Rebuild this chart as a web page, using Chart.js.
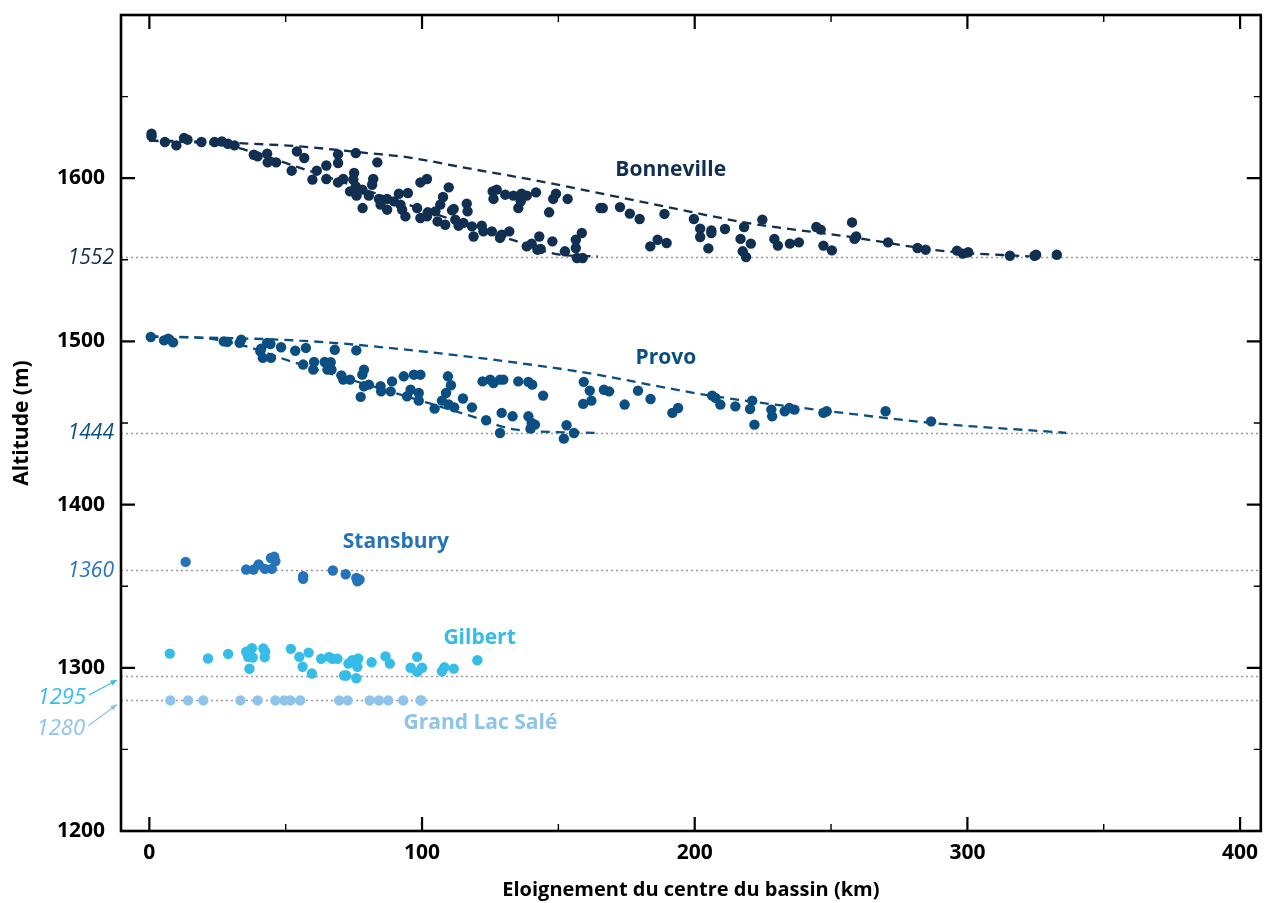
<!DOCTYPE html>
<html>
<head>
<meta charset="utf-8">
<script src="https://cdn.jsdelivr.net/npm/chart.js@4.4.1/dist/chart.umd.min.js"></script>
<style>
  html, body { margin: 0; padding: 0; background: #fff; }
  #wrap { width: 1266px; height: 903px; }
</style>
</head>
<body>
<div id="wrap"><canvas id="chart"></canvas></div>
<script>
// ---- data (km from basin centre, altitude m) ----
const bonneville = [
  [0.8,1627.3],[0.8,1625.6],[5.7,1622.2],[9.9,1620.1],[12.7,1624.6],[14,1623.6],[19.1,1622.2],[23.9,1622.2],
  [26.6,1622.5],[28.8,1621.1],[31.2,1620.1],[38.3,1614.4],[39.7,1613.4],[43.2,1615],[43.4,1609.7],[46.5,1609.7],
  [52.2,1604.6],[54.1,1616.4],[56.8,1612.4],[59.8,1599.1],[61.4,1604.6],[64.9,1607.8],[64.9,1599.5],[69.2,1614.6],
  [69.2,1609.3],[69.2,1597.4],[71.1,1599.5],[75.1,1603.2],[75.7,1615.4],[74.8,1599.1],[73.6,1591.9],[75.7,1595],
  [78.1,1593],[76,1589.3],[78.2,1581.7],[80.5,1589.3],[82.1,1599.5],[81.7,1596],[83.6,1609.7],[84.2,1587.3],
  [84.8,1583.8],[87.2,1587.3],[87.2,1580.7],[89.7,1585.8],[91.5,1590.5],[92.1,1583.8],[92.7,1580.7],[94.8,1590.9],
  [93.9,1576.6],[98.2,1581.7],[99.4,1597.4],[101.8,1599.5],[99.4,1575.6],[101.8,1576.6],[102.1,1579.1],[104.9,1579.7],
  [105.7,1573.5],[106.7,1583.8],[107.7,1588.5],[109.8,1594.4],[111,1580.3],[111.6,1581.1],[108.5,1571.5],[112.2,1574.6],
  [113.4,1570.9],[115.2,1572.6],[116.4,1584.4],[116.7,1579.7],[118.3,1570.5],[118.9,1564.3],[121.9,1570.9],[122.5,1567.4],
  [125.6,1567.4],[125.9,1591.9],[127.4,1593],[126.2,1587.3],[130.5,1589.9],[133.5,1589.3],[136.5,1590.5],[138.4,1589.3],
  [141.8,1591.3],[136.2,1585.8],[135.3,1581.7],[129.2,1565.4],[128.6,1563.4],[132,1567.4],[146.6,1579.1],[148.1,1587.3],
  [149.1,1590.5],[143,1564.3],[147.8,1561.3],[138.4,1558.2],[140.2,1559.9],[143.5,1556.6],[142.3,1556.2],
  [153.4,1587.3],[152.4,1555.2],[156.4,1562.3],[156.4,1557.2],[158.6,1566.4],[156.8,1551.1],[158.9,1551.1],[165.4,1581.7],
  [166.3,1581.7],[172.6,1582.3],[176.2,1578.3],[179.8,1575],[188.9,1578.1],[183.7,1558.2],[186.4,1562.3],[189.7,1560.3],
  [199.7,1575],[202,1569.1],[202,1564],[206.1,1566.4],[206.1,1568],[205,1557],[211.1,1568.9],[216.8,1562.8],
  [218.1,1570.1],[220.6,1559.9],[217.6,1555.2],[218.8,1551.7],[224.8,1574.6],[229.2,1562.8],[230.5,1558.7],[234.9,1559.9],
  [238.2,1560.7],[244.6,1570.1],[246.2,1568.5],[247.2,1558.7],[250.3,1555.8],[257.7,1572.9],[258.6,1562.8],[259.2,1564.3],
  [270.9,1560.7],[281.7,1557.2],[284.7,1556.2],[296.2,1555.6],[298.3,1553.8],[300.3,1554.6],[315.6,1552.5],[324.6,1552.5],
  [325.2,1553.1],[332.8,1553.1]
];
const bonnevilleUpper = [
  [0,1623],[18.4,1622.5],[31.2,1621.6],[55,1619.5],[79.9,1615.4],[93.9,1613],[116.4,1606.2],[140.2,1599.1],
  [188.9,1582.7],[219.3,1572.6],[255.8,1564.3],[292.4,1555.2],[322.7,1552.1]
];
const bonnevilleLower = [
  [0,1623],[20,1621.5],[31.2,1619],[55,1606.5],[79.8,1592.5],[98.1,1582],[116.3,1571.6],[134.6,1561.4],
  [149.2,1553.5],[164.5,1552]
];

const provo = [
  [0.5,1502.7],[5.4,1500.6],[6.9,1501.7],[8.7,1499.4],[27.3,1500],[28.6,1499.7],[33.7,1501.1],[33.1,1499.1],
  [41,1495.6],[43.2,1499.1],[44.4,1498.4],[40.7,1493.9],[41.6,1489.9],[44.6,1489.9],[48.3,1496.4],[53.5,1494.3],
  [57.4,1496],[68,1494.9],[75.9,1494.5],[56.4,1485.8],[60.1,1482.7],[60.4,1487.4],[64.3,1487.4],[66.5,1487.2],
  [65.3,1482.7],[66.8,1482.7],[70.4,1479.2],[71.1,1476.6],[73.6,1476.6],[78.7,1482.7],[78.1,1479.6],[78.7,1472.5],
  [80.5,1473.5],[77.5,1466],[84.8,1472.5],[85,1469.4],[88.5,1469.4],[89,1475.5],[93.3,1478.6],[97,1479.6],
  [99.4,1479.6],[95.8,1470.4],[98.8,1468.4],[98.8,1463.7],[94.5,1466.4],[109.5,1478.6],[110.6,1473.1],[108.8,1468.4],
  [107.3,1463.7],[109.8,1461.3],[111.8,1459.6],[104.6,1458.8],[115,1465],[118.3,1459.6],[122.2,1475.5],[125,1476.6],
  [128.6,1476.6],[126.2,1474.5],[129.8,1476.6],[135.3,1475.5],[139,1475.2],[140.4,1473.5],[144.4,1466.8],[129.2,1456.2],
  [133.2,1454.1],[123.5,1451.7],[128.6,1443.9],[139,1454.1],[140.2,1450],[141.4,1449],[139.8,1446.6],[153,1448.6],
  [155.7,1443.9],[152,1440.4],[159.3,1475.2],[161.5,1469.8],[162.1,1463.7],[159.1,1461.7],[166.7,1470.4],[168.6,1469.4],
  [174.3,1461.3],[179.2,1469.8],[183.8,1464.7],[191.8,1456.2],[193.9,1459.2],[206.4,1466.8],[207.6,1465.4],[209.4,1461.3],
  [214.9,1460.2],[221.1,1463.7],[220.3,1458.6],[221.9,1449],[228.1,1458.2],[228.4,1454.1],[233,1457.2],[234.7,1459.2],
  [236.6,1458.2],[247.2,1456.2],[248.4,1457.2],[270,1457.2],[286.7,1451]
];
const provoUpper = [
  [0,1503],[55,1500.5],[91.5,1495.4],[156.7,1481.7],[205.6,1466.8],[254.5,1456.2],[287.1,1450],[336.2,1444]
];
const provoLower = [
  [0,1503],[20,1502],[35.5,1497],[46.5,1490.8],[55.6,1485.8],[92.1,1467.4],[116.4,1455.1],[134.7,1445.9],[163.3,1444]
];

const stansbury = [
  [13.3,1364.9],[35.5,1360.2],[38.2,1360.2],[40.1,1363.3],[42.4,1360.6],[44.6,1367.3],[45.8,1368],[46.2,1365.3],
  [44.9,1360.6],[56.4,1356.1],[56.4,1354.5],[67.3,1359.6],[72,1357.3],[75.9,1355.1],[77.1,1354.1],[76.3,1353]
];

const gilbert = [
  [7.5,1308.7],[21.5,1305.7],[28.9,1308.5],[35.5,1309.8],[37.6,1312],[36.2,1306.7],[37.9,1306.3],[36.7,1299.4],
  [41.8,1311.8],[42.5,1309.8],[42.3,1306.5],[51.9,1311.6],[55,1306.7],[56.2,1300.6],[58.4,1309.3],[59.6,1296.5],
  [63,1305.5],[65.9,1306.7],[67.1,1305.5],[69,1305.5],[71.4,1295.3],[72.2,1295.3],[73,1302.6],[74.4,1304.6],
  [76.6,1305.7],[76.3,1300.6],[75.9,1293.6],[81.5,1303.4],[86.6,1307],[88.2,1302.6],[95.8,1300],[98.2,1306.7],
  [98.2,1297.5],[100,1300],[107.3,1297.9],[108.2,1300.3],[111.6,1299.5],[120.3,1304.6]
];

const glsX = [7.7,14.2,19.8,33.4,39.7,46.2,49.5,51.7,55.3,69.6,72.7,80.8,84.2,87.6,93.1,99.4,99.8];
const glsLevel = 1280;

// shoreline reference levels (m)
const levels = [1552, 1444, 1360, 1295, 1280];

// axis ticks
const xMajor = [0, 100, 200, 300, 400];
const xMinor = [50, 150, 250, 350];
const yLabelled = [1200, 1300, 1400, 1500, 1600];
const yMajor = [1200, 1300, 1400, 1500, 1600, 1700];
const yMinor = [1250, 1350, 1450, 1550, 1650];

// series names and where their labels sit (data coords)
const seriesNames = ["Bonneville", "Provo", "Stansbury", "Gilbert", "Grand Lac Salé"];
const seriesLabelX = [191.2, 189.4, 90.4, 121.1, 121.4];
const seriesLabelY = [1605.2, 1490, 1377.3, 1318.5, 1265.9];

// ---- style ----
const colors = ["#112f50", "#0b4f82", "#2574ba", "#35bde8", "#8ec4ea"];
const FONT = '"Open Sans", "Noto Sans", sans-serif';
// level label placement: text right edge (px), y offset from the level (px), font size, arrow to axis
const levelLabelStyle = [
  { right: 114, dy: 1, size: 21, arrow: false },
  { right: 114, dy: 0, size: 21, arrow: false },
  { right: 114, dy: 1, size: 21, arrow: false },
  { right: 86, dy: 22, size: 22, arrow: true },
  { right: 85, dy: 28.5, size: 22, arrow: true }
];

const pts = (arr) => arr.map(([x, y]) => ({ x, y }));

function pointSet(data, color) {
  return {
    data: pts(data), backgroundColor: color, borderWidth: 0,
    pointRadius: 5.2, pointHoverRadius: 5.2, showLine: false, order: 0
  };
}
function envelope(data, color) {
  return {
    data: pts(data), borderColor: color, borderWidth: 2.3, borderDash: [9, 6],
    pointRadius: 0, pointHoverRadius: 0, showLine: true, fill: false,
    cubicInterpolationMode: "monotone", order: 1
  };
}

const framePlugin = {
  id: "frame",
  beforeDatasetsDraw(chart) {
    const { ctx, chartArea: a, scales: { y } } = chart;
    ctx.save();
    ctx.strokeStyle = "#9a9a9a";
    ctx.lineWidth = 1.3;
    ctx.setLineDash([2, 3]);
    levels.forEach((lv) => {
      const py = Math.round(y.getPixelForValue(lv)) + 0.5;
      ctx.beginPath();
      ctx.moveTo(a.left, py);
      ctx.lineTo(a.right, py);
      ctx.stroke();
    });
    ctx.restore();
  },
  afterDatasetsDraw(chart) {
    const { ctx, chartArea: a, scales: { x, y } } = chart;
    ctx.save();
    ctx.strokeStyle = "#000";
    ctx.lineCap = "butt";

    // ticks, inward on all four sides
    const xtick = (vals, len, w) => {
      ctx.lineWidth = w;
      vals.forEach((v) => {
        const px = x.getPixelForValue(v);
        ctx.beginPath();
        ctx.moveTo(px, a.bottom); ctx.lineTo(px, a.bottom - len);
        ctx.moveTo(px, a.top); ctx.lineTo(px, a.top + len);
        ctx.stroke();
      });
    };
    const ytick = (vals, len, w) => {
      ctx.lineWidth = w;
      vals.forEach((v) => {
        const py = y.getPixelForValue(v);
        ctx.beginPath();
        ctx.moveTo(a.left, py); ctx.lineTo(a.left + len, py);
        ctx.moveTo(a.right, py); ctx.lineTo(a.right - len, py);
        ctx.stroke();
      });
    };
    xtick(xMajor, 14, 2.2);
    xtick(xMinor, 7, 1.4);
    ytick(yMajor, 14, 2.2);
    ytick(yMinor, 7, 1.4);

    // frame
    ctx.lineWidth = 2.6;
    ctx.strokeRect(a.left, a.top, a.right - a.left, a.bottom - a.top);

    // series labels
    ctx.font = "bold 21px " + FONT;
    ctx.textAlign = "center";
    ctx.textBaseline = "middle";
    seriesNames.forEach((n, i) => {
      ctx.fillStyle = colors[i];
      ctx.fillText(n, x.getPixelForValue(seriesLabelX[i]), y.getPixelForValue(seriesLabelY[i]));
    });

    // level labels on the left
    ctx.textAlign = "right";
    levels.forEach((lv, i) => {
      const st = levelLabelStyle[i];
      const py = y.getPixelForValue(lv);
      ctx.font = "italic " + st.size + "px " + FONT;
      ctx.fillStyle = colors[i];
      ctx.fillText(String(lv), st.right, py + st.dy);
      if (st.arrow) {
        const x0 = st.right + 3, y0 = py + st.dy - 3;
        const x1 = a.left - 4, y1 = py + 4;
        ctx.strokeStyle = colors[i];
        ctx.lineWidth = 1.2;
        ctx.beginPath();
        ctx.moveTo(x0, y0); ctx.lineTo(x1, y1);
        ctx.stroke();
        const ang = Math.atan2(y1 - y0, x1 - x0);
        ctx.beginPath();
        ctx.moveTo(x1, y1);
        ctx.lineTo(x1 - 7 * Math.cos(ang - 0.4), y1 - 7 * Math.sin(ang - 0.4));
        ctx.lineTo(x1 - 7 * Math.cos(ang + 0.4), y1 - 7 * Math.sin(ang + 0.4));
        ctx.closePath();
        ctx.fill();
      }
    });
    ctx.restore();
  }
};

const tickFont = { family: FONT, size: 21, weight: "bold" };
const titleFont = { family: FONT, size: 20, weight: "bold" };

new Chart(document.getElementById("chart"), {
  type: "scatter",
  data: {
    datasets: [
      envelope(bonnevilleUpper, colors[0]),
      envelope(bonnevilleLower, colors[0]),
      envelope(provoUpper, colors[1]),
      envelope(provoLower, colors[1]),
      pointSet(bonneville, colors[0]),
      pointSet(provo, colors[1]),
      pointSet(stansbury, colors[2]),
      pointSet(gilbert, colors[3]),
      pointSet(glsX.map((v) => [v, glsLevel]), colors[4])
    ]
  },
  options: {
    responsive: true,
    maintainAspectRatio: false,
    animation: false,
    devicePixelRatio: 1,
    layout: { padding: { top: 15, right: 1, left: 0, bottom: 0 } },
    plugins: { legend: { display: false }, tooltip: { enabled: false } },
    scales: {
      x: {
        type: "linear",
        min: -10.4,
        max: 407.6,
        afterBuildTicks: (s) => { s.ticks = xMajor.map((v) => ({ value: v })); },
        afterFit: (s) => { s.height = 72; s.paddingLeft = 0; s.paddingRight = 0; },
        grid: { display: false, drawTicks: false },
        border: { display: false },
        ticks: { font: tickFont, color: "#000", padding: 9, maxRotation: 0, callback: (v) => String(v) },
        title: {
          display: true, text: "Eloignement du centre du bassin (km)",
          font: titleFont, color: "#000", padding: { top: 0, bottom: 1 }
        }
      },
      y: {
        type: "linear",
        min: 1200,
        max: 1700,
        afterBuildTicks: (s) => { s.ticks = yLabelled.map((v) => ({ value: v })); },
        afterFit: (s) => { s.width = 121; s.paddingTop = 0; s.paddingBottom = 0; },
        grid: { display: false, drawTicks: false },
        border: { display: false },
        ticks: { font: tickFont, color: "#000", padding: 16, callback: (v) => String(v) },
        title: {
          display: true, text: "Altitude (m)",
          font: { family: FONT, size: 21, weight: "bold" }, color: "#000", padding: { top: 9, bottom: 0 }
        }
      }
    }
  },
  plugins: [framePlugin]
});
</script>
</body>
</html>
